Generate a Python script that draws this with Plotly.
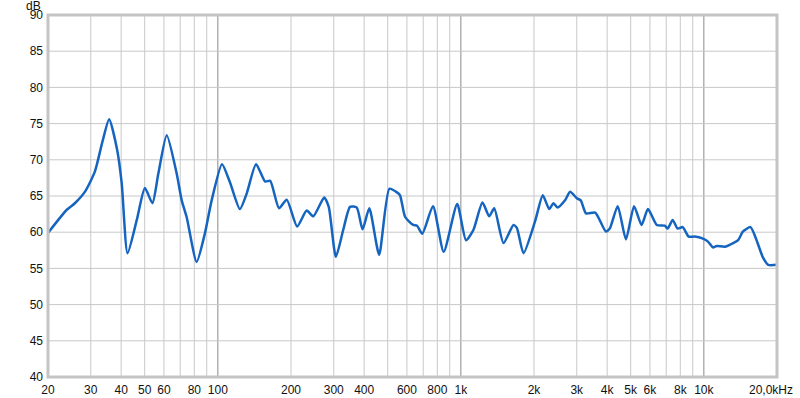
import numpy as np
import plotly.graph_objects as go

# Frequency response data (Hz, dB)
freq = [20, 23.9, 25.8, 28.4, 31.2, 33.5, 35.7, 38.5, 40.2, 42.5, 46.4, 50.1, 53.8, 56.9,
        61.6, 67.7, 71, 74.4, 81.8, 88.4, 94.3, 104, 112.4, 123.2, 131.6, 143.6, 156.5,
        164.2, 178.6, 192, 212, 232, 247, 274, 286, 306, 328, 350, 373, 394, 420, 461,
        508, 546, 562, 590, 637, 660, 694, 768, 850, 966, 1050, 1126, 1227, 1308, 1372,
        1498, 1646, 1700, 1810, 2020, 2174, 2309, 2406, 2500, 2684, 2816, 3000, 3116,
        3274, 3572, 3952, 4100, 4420, 4780, 5160, 5540, 5890, 6400, 6900, 7100, 7440,
        7800, 8180, 8660, 9180, 9920, 10400, 10900, 11300, 12200, 13200, 13840, 14500,
        15560, 16480, 17460, 18400, 20000]
level = [59.9, 63.1, 64.0, 65.6, 68.4, 72.5, 75.6, 71.4, 66.8, 57.1, 61.7, 66.1, 64.0, 68.1,
         73.4, 68.1, 64.4, 62.1, 55.9, 59.8, 64.4, 69.4, 66.8, 63.2, 65.4, 69.4, 67.0,
         67.1, 63.3, 64.5, 60.8, 63.0, 62.2, 64.8, 63.5, 56.6, 60.3, 63.5, 63.4, 60.4, 63.3, 56.9,
         66.0, 65.5, 65.1, 62.1, 61.0, 60.9, 59.8, 63.6, 57.3, 63.9, 58.9, 60.3, 64.1, 62.2, 63.3,
         58.5, 61.0, 60.6, 57.1, 61.5, 65.1, 63.2, 64.0, 63.4, 64.4, 65.6, 64.7, 64.4,
         62.6, 62.7, 60.1, 60.5, 63.6, 59.0, 63.6, 61.0, 63.2, 61.0, 60.9, 60.5, 61.7,
         60.5, 60.7, 59.4, 59.4, 59.1, 58.7, 57.9, 58.1, 58.0, 58.5, 58.9, 60.1,
         60.7, 58.9, 56.6, 55.5, 55.5]

grid_x = [30, 40, 50, 60, 70, 80, 90, 200, 300, 400, 500, 600, 700, 800, 900,
          2000, 3000, 4000, 5000, 6000, 7000, 8000, 9000]
decade_x = [100, 1000, 10000]
tick_vals = [20, 30, 40, 50, 60, 80, 100, 200, 300, 400, 600, 800, 1000,
             2000, 3000, 4000, 5000, 6000, 8000, 10000]
tick_text = ["20", "30", "40", "50", "60", "80", "100", "200", "300", "400", "600", "800", "1k",
             "2k", "3k", "4k", "5k", "6k", "8k", "10k"]
y_ticks = [40, 45, 50, 55, 60, 65, 70, 75, 80, 85, 90]

font = dict(family="Liberation Sans, Arial", size=12, color="#111111")

fig = go.Figure()
fig.add_trace(go.Scatter(x=freq, y=level, mode="lines",
                         line=dict(color="#1565c0", width=2.5, shape="spline", smoothing=0.6),
                         hoverinfo="skip", showlegend=False))

shapes = []
for gx in grid_x:
    shapes.append(dict(type="line", xref="x", yref="paper", x0=gx, x1=gx, y0=0, y1=1,
                       line=dict(color="#c8c8c8", width=1), layer="below"))
for gx in decade_x:
    shapes.append(dict(type="line", xref="x", yref="paper", x0=gx, x1=gx, y0=0, y1=1,
                       line=dict(color="#8a8a8a", width=1), layer="below"))
for gy in y_ticks[1:-1]:
    shapes.append(dict(type="line", xref="paper", yref="y", x0=0, x1=1, y0=gy, y1=gy,
                       line=dict(color="#c8c8c8", width=1), layer="below"))
shapes.append(dict(type="rect", xref="paper", yref="paper", x0=0, x1=1, y0=0, y1=1,
                   line=dict(color="#c4c4c4", width=3), layer="above"))

fig.update_layout(
    width=800, height=398,
    margin=dict(l=48, r=23, t=15, b=21),
    paper_bgcolor="white", plot_bgcolor="white",
    font=font,
    shapes=shapes,
    xaxis=dict(type="log", range=[np.log10(20), np.log10(20000)],
               tickvals=tick_vals + [20000], ticktext=tick_text + [""],
               showgrid=False, zeroline=False, showline=False, ticks="",
               tickfont=font, ticklabelstandoff=4, automargin=False),
    yaxis=dict(range=[40, 90], tickvals=y_ticks, ticktext=[str(v) for v in y_ticks],
               showgrid=False, zeroline=False, showline=False, ticks="",
               tickfont=font, ticklabelstandoff=4, automargin=False),
    annotations=[
        dict(text="dB", xref="paper", yref="paper", x=-0.008, y=1.0, xanchor="right",
             yanchor="bottom", showarrow=False, font=font, yshift=1, borderpad=0),
        dict(text="20,0kHz", xref="paper", yref="paper", x=1.0, y=0, xanchor="center",
             yanchor="top", xshift=-6, yshift=-4, showarrow=False, font=font),
    ],
)

fig.write_html("out.html")
